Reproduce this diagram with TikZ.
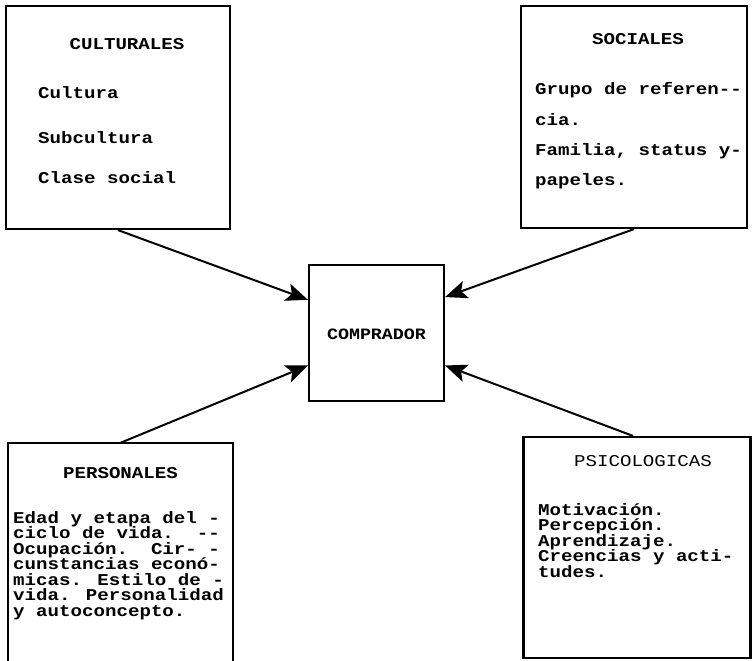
\documentclass[tikz,border=0pt]{standalone}
\usepackage{fontspec}
\newfontfamily\twf[FakeStretch=1.16]{Liberation Mono}
\usetikzlibrary{arrows.meta,calc}
\begin{document}
\begin{tikzpicture}[x=1pt,y=-1pt,
  box/.style={draw, line width=2.2pt, rectangle, inner sep=0pt},
  frame/.style={rectangle, inner sep=0pt},
  side/.style={line width=2.2pt},
  txt/.style={font=\twf\bfseries\fontsize{16.5}{16.5}\selectfont, inner sep=0pt, anchor=base west},
  ttl/.style={font=\twf\bfseries\fontsize{16.5}{16.5}\selectfont, inner sep=0pt, anchor=base},
  ttlr/.style={font=\twf\fontsize{16.5}{16.5}\selectfont, inner sep=0pt, anchor=base},
  arr/.style={line width=2pt, -{Stealth[length=22pt,width=18pt,inset=5pt]}}]
\useasboundingbox (0,0) rectangle (752,661);
\fill[white] (0,0) rectangle (752,661);
% boxes
\node[box, minimum width=224pt, minimum height=223pt] (cult) at (118,117.5) {};
\node[box, minimum width=226pt, minimum height=222pt] (soc) at (634,117) {};
\node[box, minimum width=135pt, minimum height=136pt] (comp) at (376.5,333) {};
\node[frame, minimum width=225pt, minimum height=230pt] (pers) at (120.5,558) {};
\draw[side] (pers.south west) -- (pers.north west) -- (pers.north east) -- (pers.south east);
\node[box, minimum width=227pt, minimum height=221pt] (psi) at (637,547.5) {};
% texts
\node[ttl] (t1) at (127,49) {CULTURALES};
\node[txt] (c1) at (38,99) {Cultura};
\node[txt] (c2) at (38,143) {Subcultura};
\node[txt] (c3) at (38,183) {Clase social};
\node[ttl] (t2) at (638,45) {SOCIALES};
\node[txt] (s1) at (535,95) {Grupo de referen--};
\node[txt] (s2) at (535,125) {cia.};
\node[txt] (s3) at (535,155) {Familia, status y-};
\node[txt] (s4) at (535,185) {papeles.};
\node[ttl, font=\twf\bfseries\fontsize{15.8}{15.8}\selectfont] (t3) at (376.5,339) {COMPRADOR};
\node[ttl] (t4) at (120.5,478) {PERSONALES};
\node[txt] (p1) at (13,523) {Edad y etapa del -};
\node[txt] (p2) at (13,538.5) {ciclo de vida.~~--};
\node[txt] (p3) at (13,554) {Ocupación.~~Cir- -};
\node[txt] (p4) at (13,569.5) {cunstancias econó-};
\node[txt] (p5) at (13,585) {micas. Estilo de -};
\node[txt] (p6) at (13,600.5) {vida. Personalidad};
\node[txt] (p7) at (13,616) {y autoconcepto.};
\node[ttlr] (t5) at (643,466) {PSICOLOGICAS};
\node[txt] (q1) at (538,515) {Motivación.};
\node[txt] (q2) at (538,530.5) {Percepción.};
\node[txt] (q3) at (538,546) {Aprendizaje.};
\node[txt] (q4) at (538,561.5) {Creencias y acti-};
\node[txt] (q5) at (538,577) {tudes.};
% arrows
\coordinate (cw1) at ($(comp.north west)!0.26!(comp.south west)$);
\coordinate (cw2) at ($(comp.north west)!0.735!(comp.south west)$);
\coordinate (ce1) at ($(comp.north east)!0.24!(comp.south east)$);
\coordinate (ce2) at ($(comp.north east)!0.735!(comp.south east)$);
\coordinate (ps) at ($(psi.north)+(-4,0)$);
\draw[arr] (cult.south) -- (cw1);
\draw[arr] (soc.south) -- (ce1);
\draw[arr] (pers.north) -- (cw2);
\draw[arr] (ps) -- (ce2);
\end{tikzpicture}
\end{document}
